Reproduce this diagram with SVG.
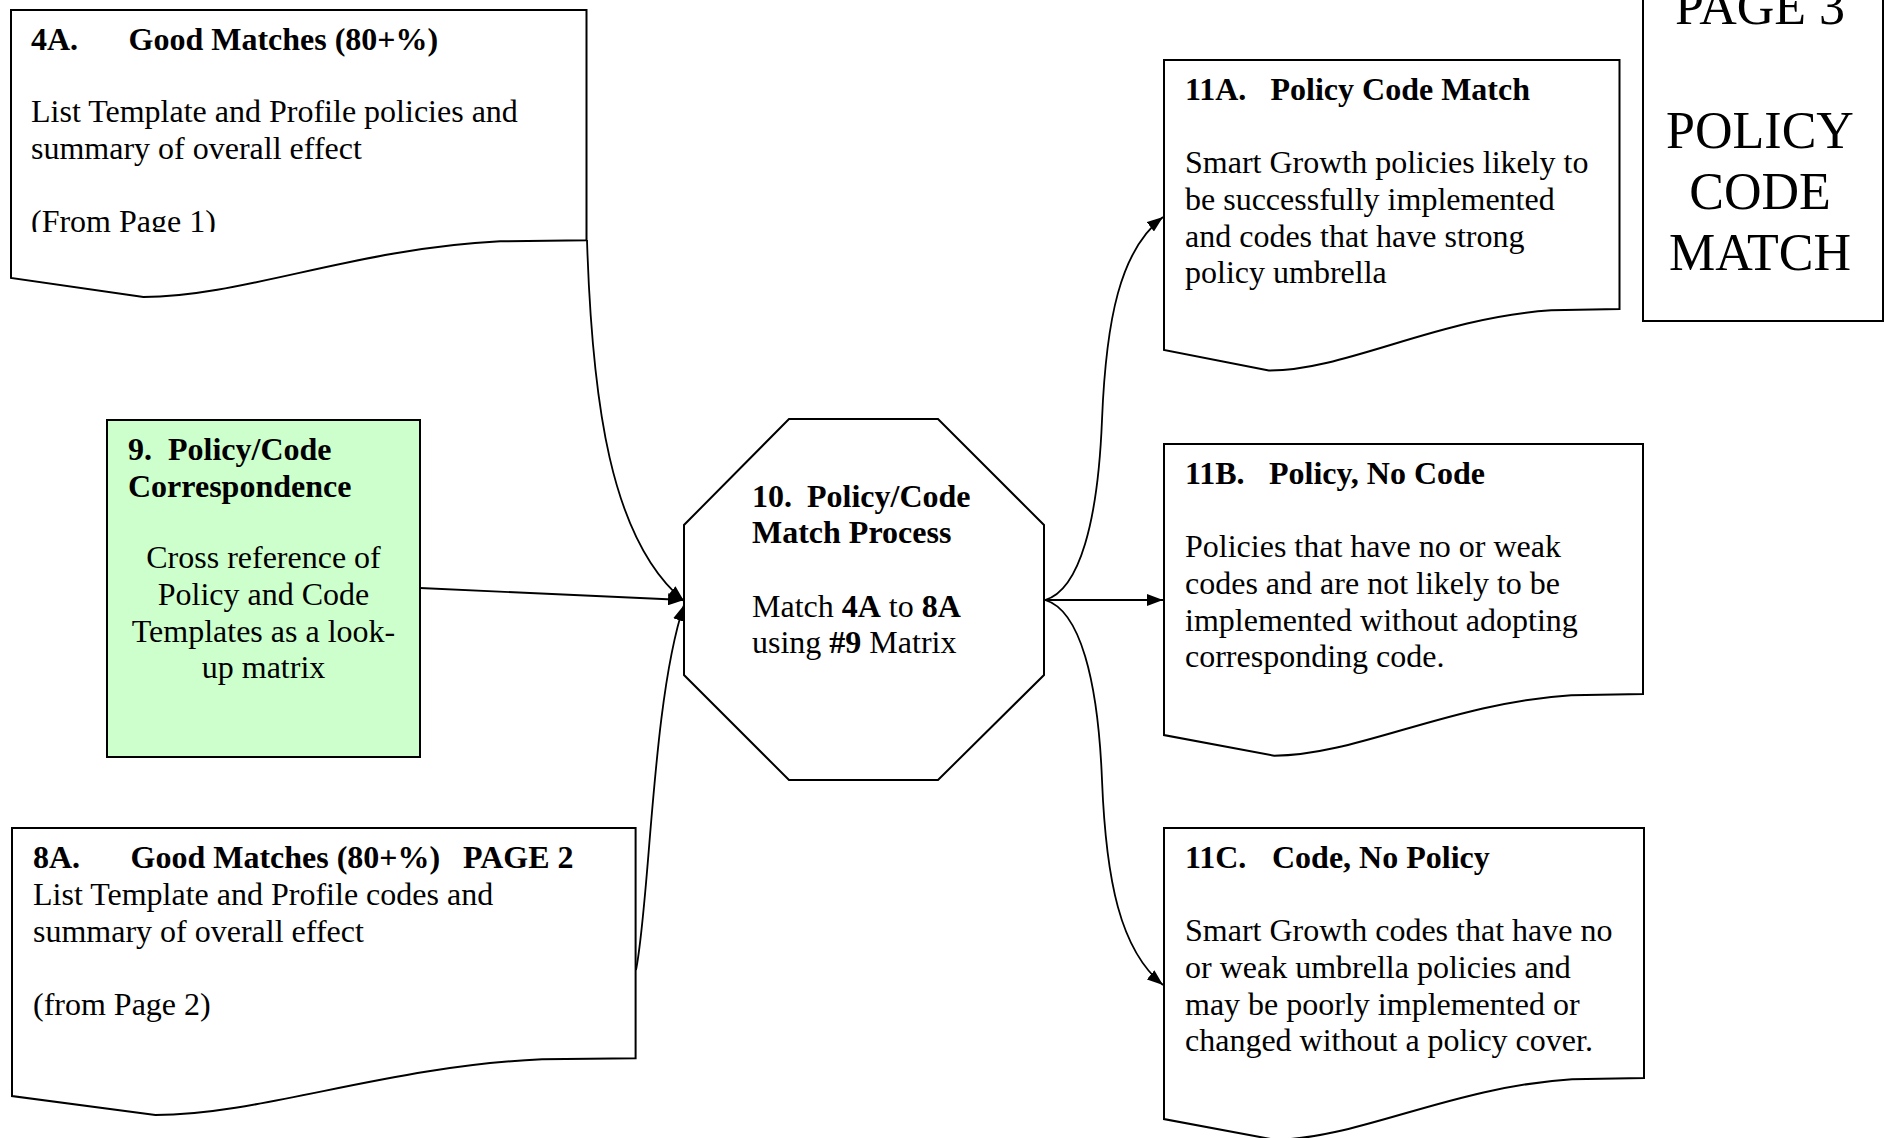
<svg xmlns="http://www.w3.org/2000/svg" width="1884" height="1138" viewBox="0 0 1884 1138">
<style>
.shape{fill:#ffffff;stroke:#000000;stroke-width:2;stroke-linejoin:miter}
.green{fill:#ccffcc}
.t{font-family:"Liberation Serif","Times New Roman",serif;font-size:32px;fill:#000000}
.b{font-weight:bold}
.big{font-family:"Liberation Serif","Times New Roman",serif;font-size:52px;fill:#000000;text-anchor:middle}
.mid{text-anchor:middle}
.conn{fill:none;stroke:#000000;stroke-width:1.8}
</style>
<defs>
<marker id="arrow" viewBox="0 0 16 12" refX="16" refY="6" markerWidth="16" markerHeight="12" markerUnits="userSpaceOnUse" orient="auto">
<path d="M0,0 L16,6 L0,12 Z" fill="#000000"/>
</marker>
<clipPath id="clip4a"><rect x="0" y="0" width="600" height="232"/></clipPath>
</defs>
<rect x="0" y="0" width="1884" height="1138" fill="#ffffff"/>

<g id="node-4A">
<path class="shape" d="M11,10 H586.5 V240.2 L500.2,241.3 C356.3,248.2 241.2,297 143.4,297 L11,278 Z"/>
<text class="t b" x="31" y="50">4A.</text>
<text class="t b" x="128.5" y="50">Good Matches (80+%)</text>
<text class="t" x="31" y="122">List Template and Profile policies and</text>
<text class="t" x="31" y="158.6">summary of overall effect</text>
<text class="t" x="31" y="232" clip-path="url(#clip4a)">(From Page 1)</text>
</g>

<g id="node-9">
<rect class="shape green" x="107" y="420" width="313" height="337"/>
<text class="t b" x="128" y="460">9.<tspan x="168">Policy/Code</tspan></text>
<text class="t b" x="128" y="497">Correspondence</text>
<text class="t mid" x="263.5" y="568">Cross reference of</text>
<text class="t mid" x="263.5" y="605">Policy and Code</text>
<text class="t mid" x="263.5" y="642">Templates as a look-</text>
<text class="t mid" x="263.5" y="678">up matrix</text>
</g>

<g id="node-8A">
<path class="shape" d="M12,828 H635.6 V1058.2 L542.1,1059.3 C386.2,1066.2 261.4,1115 155.4,1115 L12,1096 Z"/>
<text class="t b" x="33" y="868">8A.</text>
<text class="t b" x="130.5" y="868">Good Matches (80+%)</text>
<text class="t b" x="463" y="868">PAGE 2</text>
<text class="t" x="33" y="905">List Template and Profile codes and</text>
<text class="t" x="33" y="942">summary of overall effect</text>
<text class="t" x="33" y="1015">(from Page 2)</text>
</g>

<g id="node-10">
<polygon class="shape" points="789,419 938,419 1044,525 1044,675 938,780 789,780 684,675 684,525"/>
<text class="t b" x="752" y="507">10.<tspan x="807">Policy/Code</tspan></text>
<text class="t b" x="752" y="543">Match Process</text>
<text class="t" x="752" y="617">Match <tspan class="b">4A</tspan> to <tspan class="b">8A</tspan></text>
<text class="t" x="752" y="653">using <tspan class="b">#9</tspan> Matrix</text>
</g>

<g id="node-11A">
<path class="shape" d="M1164,60 H1619.5 V309 L1551.2,310.3 C1437.3,317.7 1346.2,370.5 1268.8,370.5 L1164,350 Z"/>
<text class="t b" x="1185" y="99.5">11A.</text>
<text class="t b" x="1270.5" y="99.5">Policy Code Match</text>
<text class="t" x="1185" y="173">Smart Growth policies likely to</text>
<text class="t" x="1185" y="209.8">be successfully implemented</text>
<text class="t" x="1185" y="246.6">and codes that have strong</text>
<text class="t" x="1185" y="283.4">policy umbrella</text>
</g>

<g id="node-11B">
<path class="shape" d="M1164,444 H1643 V694 L1571.2,695.2 C1451.4,702.7 1355.6,755.7 1274.2,755.7 L1164,735.1 Z"/>
<text class="t b" x="1185" y="483.5">11B.</text>
<text class="t b" x="1269" y="483.5">Policy, No Code</text>
<text class="t" x="1185" y="557">Policies that have no or weak</text>
<text class="t" x="1185" y="593.8">codes and are not likely to be</text>
<text class="t" x="1185" y="630.6">implemented without adopting</text>
<text class="t" x="1185" y="667.4">corresponding code.</text>
</g>

<g id="node-11C">
<path class="shape" d="M1164,828 H1644 V1078 L1572,1079.2 C1452,1086.7 1356,1139.7 1274.4,1139.7 L1164,1119.1 Z"/>
<text class="t b" x="1185" y="867.5">11C.</text>
<text class="t b" x="1272" y="867.5">Code, No Policy</text>
<text class="t" x="1185" y="941">Smart Growth codes that have no</text>
<text class="t" x="1185" y="977.8">or weak umbrella policies and</text>
<text class="t" x="1185" y="1014.6">may be poorly implemented or</text>
<text class="t" x="1185" y="1051.4">changed without a policy cover.</text>
</g>

<g id="node-page3">
<rect class="shape" x="1643" y="-20" width="240" height="341"/>
<text class="big" x="1760" y="24">PAGE 3</text>
<text class="big" x="1760" y="148">POLICY</text>
<text class="big" x="1760" y="209">CODE</text>
<text class="big" x="1760" y="270">MATCH</text>
</g>

<g id="connectors">
<path class="conn" marker-end="url(#arrow)" d="M587,240 C592,400 610,540 684,601"/>
<path class="conn" marker-end="url(#arrow)" d="M420,588 L684,600"/>
<path class="conn" marker-end="url(#arrow)" d="M636,970 C650,900 652,700 684,605"/>
<path class="conn" marker-end="url(#arrow)" d="M1045,600 C1080,590 1098,520 1102,420 C1106,320 1120,250 1163,217"/>
<path class="conn" marker-end="url(#arrow)" d="M1045,600 L1163,600"/>
<path class="conn" marker-end="url(#arrow)" d="M1045,600 C1080,610 1098,680 1102,780 C1106,880 1120,950 1163,985"/>
</g>
</svg>
